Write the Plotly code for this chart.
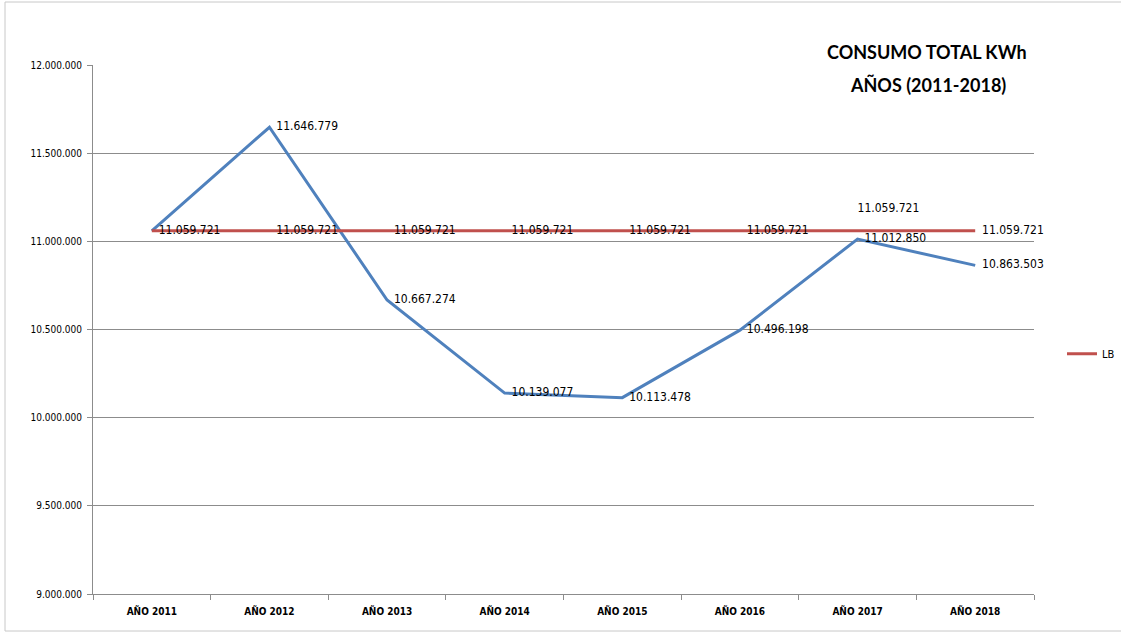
import plotly.graph_objects as go

categories = ["AÑO 2011", "AÑO 2012", "AÑO 2013", "AÑO 2014", "AÑO 2015", "AÑO 2016", "AÑO 2017", "AÑO 2018"]
consumo = [11059721, 11646779, 10667274, 10139077, 10113478, 10496198, 11012850, 10863503]
lb = [11059721, 11059721, 11059721, 11059721, 11059721, 11059721, 11059721, 11059721]
y_ticks = [9000000, 9500000, 10000000, 10500000, 11000000, 11500000, 12000000]

label_font = dict(family="Liberation Sans Narrow, DejaVu Sans Condensed, Arial Narrow, sans-serif", size=12, color="#000000")

fig = go.Figure()
# first blue label coincides with the LB label, so it is not drawn twice
blue_tpl = [""] + ["  %{y:,d}"] * 7
fig.add_trace(go.Scatter(
    x=categories, y=consumo, mode="lines+text", name="Consumo",
    line=dict(color="#4F81BD", width=3),
    texttemplate=blue_tpl, textposition="middle right",
    textfont=label_font, showlegend=False, cliponaxis=False,
))
lb_pos = ["middle right"] * 6 + ["top right", "middle right"]
lb_tpl = ["  %{y:,d}"] * 6 + ["%{y:,d}<br> ", "  %{y:,d}"]
fig.add_trace(go.Scatter(
    x=categories, y=lb, mode="lines+text", name="LB",
    line=dict(color="#C0504D", width=3),
    texttemplate=lb_tpl, textposition=lb_pos,
    textfont=label_font, cliponaxis=False,
))

W, H = 1121, 632
PL, PR, PT, PB = 93, 1034, 65, 594  # target plot area in window pixels
pw, ph = PR - PL, PB - PT


def px_x(x):
    return (x - PL) / pw


def px_y(y):
    return (PB - y) / ph


fig.update_layout(
    width=W, height=H,
    margin=dict(l=PL, r=W - PR, t=PT, b=H - PB),
    paper_bgcolor="white", plot_bgcolor="white",
    separators=",.",
    font=dict(family="Liberation Sans Narrow, DejaVu Sans Condensed, sans-serif", size=12, color="#000000"),
    legend=dict(xref="container", x=1062 / W, y=0.454, xanchor="left", yanchor="middle",
                font=dict(size=11), bgcolor="rgba(0,0,0,0)", itemwidth=30),
    xaxis=dict(type="category", range=[-0.5, 7.5], showgrid=False,
               showline=True, linecolor="#8c8c8c", linewidth=1,
               ticks="outside", tickson="boundaries", ticklen=5, tickcolor="#8c8c8c",
               ticklabelstandoff=8,
               tickfont=dict(family="Liberation Sans Narrow, DejaVu Sans Condensed, sans-serif", size=10, color="#000000", weight="bold")),
    yaxis=dict(range=[9000000, 12000000], tickvals=y_ticks, tickformat=",d",
               showgrid=True, gridcolor="#8c8c8c", gridwidth=1,
               showline=True, linecolor="#8c8c8c", linewidth=1,
               ticks="outside", ticklen=5, tickcolor="#8c8c8c",
               ticklabelstandoff=3,
               zeroline=False,
               tickfont=dict(size=10)),
    annotations=[
        dict(text="CONSUMO TOTAL KWh", xref="paper", yref="paper",
             x=px_x(927), y=px_y(52), xanchor="center", yanchor="middle",
             showarrow=False,
             font=dict(family="Lato, Open Sans, sans-serif", size=18, color="#000000", weight="bold")),
        dict(text="AÑOS (2011-2018)", xref="paper", yref="paper",
             x=px_x(928), y=px_y(85), xanchor="center", yanchor="middle",
             showarrow=False,
             font=dict(family="Lato, Open Sans, sans-serif", size=18, color="#000000", weight="bold")),
    ],
    shapes=[dict(type="rect", xref="paper", yref="paper",
                 x0=px_x(5), x1=px_x(1130),
                 y0=px_y(631), y1=px_y(2),
                 line=dict(color="#c8c8c8", width=1), layer="below")],
)

fig.write_html("out.html", config={"displayModeBar": False},
               post_script="document.body.style.margin='0';document.body.style.padding='0';")
